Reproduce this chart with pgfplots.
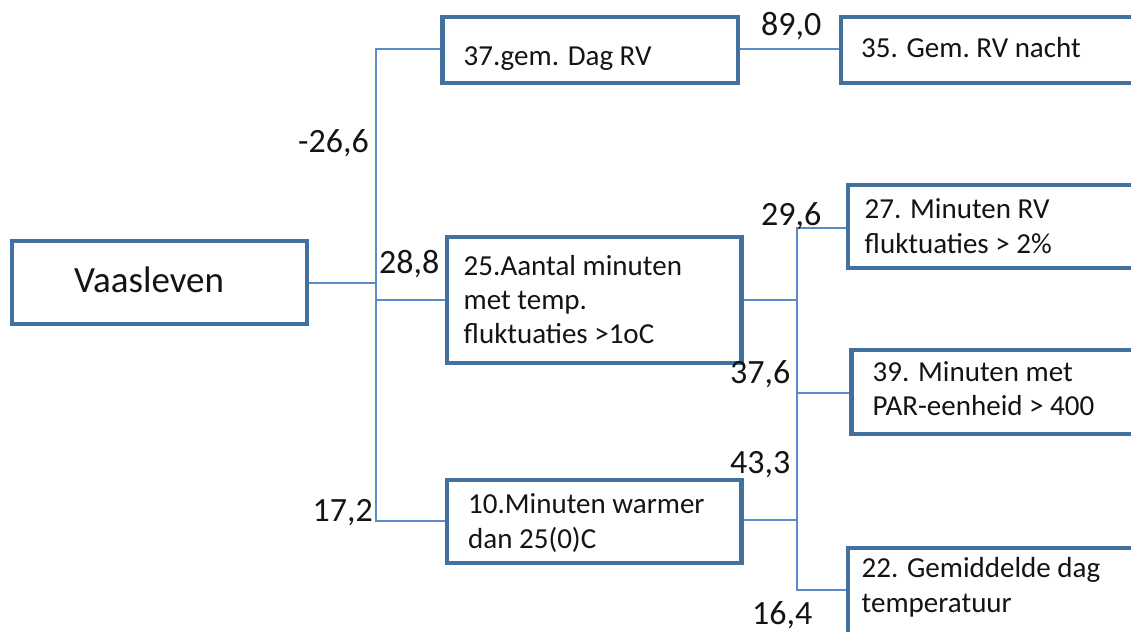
\documentclass[border=0pt]{standalone}
\usepackage{pgfplots}
\pgfplotsset{compat=1.18}
\usepackage{fontspec}
\setmainfont{Carlito}
\definecolor{boxblue}{RGB}{65,113,156}
\definecolor{lineblue}{RGB}{91,139,200}
\definecolor{txt}{RGB}{20,20,20}
\newcommand{\boxfont}{\fontsize{29bp}{34.5bp}\selectfont}
\newcommand{\labfont}{\fontsize{34bp}{40bp}\selectfont}
\begin{document}
\begin{tikzpicture}
\begin{axis}[
  x=1bp, y=1bp, scale only axis,
  xmin=0, xmax=1131, ymin=0, ymax=632,
  y dir=reverse, hide axis,
  clip mode=individual,
  every axis plot/.append style={mark=none},
]
% connector lines
\addplot[lineblue, line width=1.6bp] coordinates {(307,283) (376,283)};
\addplot[lineblue, line width=1.6bp] coordinates {(442.5,49) (376,49) (376,521) (447,521)};
\addplot[lineblue, line width=1.6bp] coordinates {(376,300) (447,300)};
\addplot[lineblue, line width=1.6bp] coordinates {(738,49) (841,49)};
\addplot[lineblue, line width=1.6bp] coordinates {(741,300) (797,300)};
\addplot[lineblue, line width=1.6bp] coordinates {(741,520) (797,520)};
\addplot[lineblue, line width=1.6bp] coordinates {(848,228) (797,228) (797,590) (848,590)};
\addplot[lineblue, line width=1.6bp] coordinates {(797,393) (851,393)};
% boxes
\addplot[boxblue, line width=4.8bp, line join=miter, fill=white] coordinates {(12,241) (307,241) (307,324) (12,324)} -- cycle;
\addplot[boxblue, line width=4.8bp, line join=miter, fill=white] coordinates {(442.5,17) (738,17) (738,83) (442.5,83)} -- cycle;
\addplot[boxblue, line width=4.8bp, line join=miter, fill=white] coordinates {(841,17) (1160,17) (1160,83) (841,83)} -- cycle;
\addplot[boxblue, line width=4.8bp, line join=miter, fill=white] coordinates {(447,237) (741.5,237) (741.5,363) (447,363)} -- cycle;
\addplot[boxblue, line width=4.8bp, line join=miter, fill=white] coordinates {(447,480) (741.5,480) (741.5,563) (447,563)} -- cycle;
\addplot[boxblue, line width=4.8bp, line join=miter, fill=white] coordinates {(848,185) (1160,185) (1160,268) (848,268)} -- cycle;
\addplot[boxblue, line width=4.8bp, line join=miter, fill=white] coordinates {(851.5,350) (1160,350) (1160,434) (851.5,434)} -- cycle;
\addplot[boxblue, line width=4.8bp, line join=miter, fill=white] coordinates {(848,548) (1160,548) (1160,660) (848,660)} -- cycle;
% box texts
\node[anchor=base west, inner sep=0, text=txt] at (axis cs:74,292) {\fontsize{37bp}{43bp}\selectfont Vaasleven};
\node[anchor=base west, inner sep=0, text=txt] at (axis cs:463.5,65) {\boxfont 37.gem. Dag RV};
\node[anchor=base west, inner sep=0, text=txt] at (axis cs:861,57) {\boxfont 35. Gem.\ RV nacht};
\node[anchor=base west, inner sep=0, text=txt] at (axis cs:463.5,275) {\boxfont 25.Aantal minuten};
\node[anchor=base west, inner sep=0, text=txt] at (axis cs:463.5,309) {\boxfont met temp.};
\node[anchor=base west, inner sep=0, text=txt] at (axis cs:463.5,343) {\boxfont fluktuaties >1oC};
\node[anchor=base west, inner sep=0, text=txt] at (axis cs:468,513) {\boxfont 10.Minuten warmer};
\node[anchor=base west, inner sep=0, text=txt] at (axis cs:468,548) {\boxfont dan 25(0)C};
\node[anchor=base west, inner sep=0, text=txt] at (axis cs:864.5,218) {\boxfont 27. Minuten RV};
\node[anchor=base west, inner sep=0, text=txt] at (axis cs:864.5,253) {\boxfont fluktuaties > 2\%};
\node[anchor=base west, inner sep=0, text=txt] at (axis cs:872.5,381) {\boxfont 39. Minuten met};
\node[anchor=base west, inner sep=0, text=txt] at (axis cs:872.5,415) {\boxfont PAR-eenheid > 400};
\node[anchor=base west, inner sep=0, text=txt] at (axis cs:861.5,577) {\boxfont 22. Gemiddelde dag};
\node[anchor=base west, inner sep=0, text=txt] at (axis cs:861.5,612) {\boxfont temperatuur};
% coefficients
\node[anchor=base east, inner sep=0, text=txt] at (axis cs:369,152) {\labfont -26,6};
\node[anchor=base west, inner sep=0, text=txt] at (axis cs:379,273) {\labfont 28,8};
\node[anchor=base east, inner sep=0, text=txt] at (axis cs:373,521) {\labfont 17,2};
\node[anchor=base west, inner sep=0, text=txt] at (axis cs:761,35) {\labfont 89,0};
\node[anchor=base west, inner sep=0, text=txt] at (axis cs:761,225) {\labfont 29,6};
\node[anchor=base west, inner sep=0, text=txt] at (axis cs:730,383) {\labfont 37,6};
\node[anchor=base west, inner sep=0, text=txt] at (axis cs:730,473) {\labfont 43,3};
\node[anchor=base west, inner sep=0, text=txt] at (axis cs:752,624) {\labfont 16,4};
\end{axis}
\pgfresetboundingbox
\useasboundingbox (0,0) rectangle (1131bp,632bp);
\end{tikzpicture}
\end{document}
